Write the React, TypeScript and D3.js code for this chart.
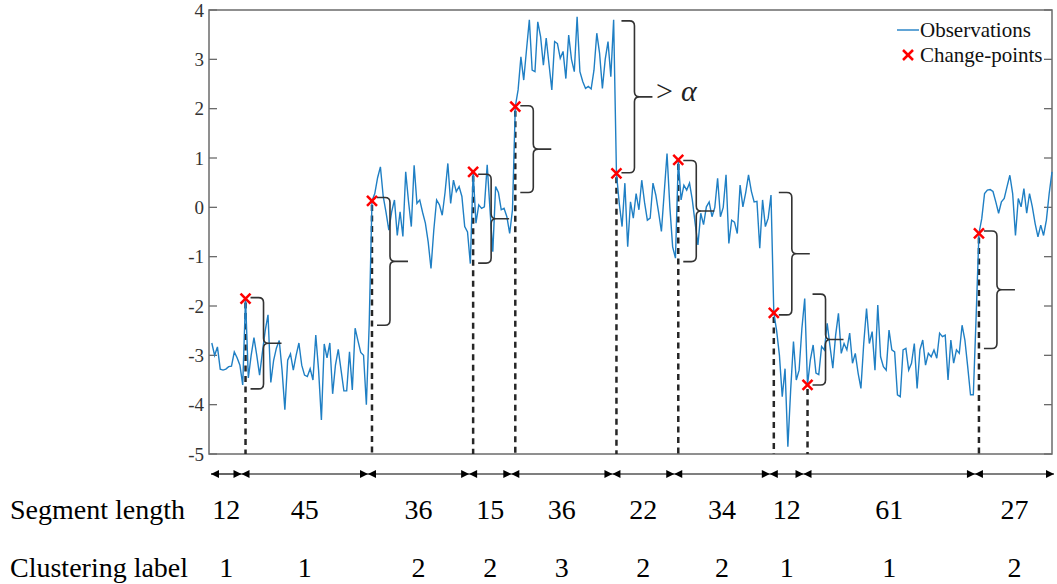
import React from 'react';
import * as d3 from 'd3';

const segLengths = [12, 45, 36, 15, 36, 22, 34, 12, 61, 27];
const clusterLabels = [1, 1, 2, 2, 3, 2, 2, 1, 1, 2];

// observations, one array per segment (index 1..300)
const seg1 = [-2.75, -3.0, -2.83, -3.28, -3.3, -3.28, -3.23, -3.22, -2.93, -3.05, -3.2, -3.6];
const seg2 = [-1.85, -3.46, -3.0, -2.64, -3.0, -3.4, -2.94, -2.5, -2.18, -3.55, -3.1, -2.85, -2.7, -3.3, -4.1,
  -3.1, -2.97, -3.3, -3.0, -2.75, -3.2, -3.4, -3.43, -3.27, -3.5, -2.59, -3.3, -4.31, -2.77, -3.05,
  -2.75, -3.78, -3.2, -2.88, -3.3, -3.72, -3.72, -2.93, -3.7, -2.45, -2.7, -2.94, -3.0, -4.0, -2.39];
const seg3 = [0.13, 0.28, 0.6, 0.82, 0.22, -0.1, -0.46, -0.09, 0.15, -0.57, -0.09, -0.59, 0.72, 0.12, -0.39,
  0.85, 0.08, 0.15, -0.1, -0.32, -0.7, -1.24, -0.46, 0.15, 0.05, -0.16, 0.3, 0.89, 0.08, 0.55,
  0.32, 0.42, 0.22, -0.39, -0.5, -1.14];
const seg4 = [0.72, -0.32, 0.05, -0.02, 0.01, 0.86, -0.05, -0.9, 0.42, 0.3, -0.05, -0.02, -0.19, -0.53, -0.05];
const seg5 = [2.04, 2.38, 3.05, 2.58, 3.2, 3.8, 2.78, 2.75, 3.76, 3.46, 2.88, 3.43, 2.9, 2.38, 3.36,
  3.32, 3.02, 3.16, 2.61, 3.49, 3.0, 2.75, 3.86, 2.75, 2.55, 2.41, 2.45, 2.4, 2.78, 3.53,
  3.12, 2.41, 3.0, 3.36, 2.65, 3.8];
const seg6 = [0.69, 0.08, -0.39, 0.49, -0.8, 0.11, -0.22, 0.28, -0.05, 0.55, 0.1, -0.26, -0.22, 0.49, 0.25,
  -0.1, -0.49, 0.3, 1.09, 0.01, -0.8, -1.03];
const seg7 = [0.96, 0.15, 0.45, 0.35, 0.49, 0.15, -0.32, -0.76, -0.12, -0.35, 0.01, 0.11, -0.19, 0.0, 0.59,
  -0.19, 0.0, 0.66, -0.73, -0.26, -0.3, -0.53, 0.45, 0.01, 0.3, 0.66, 0.33, 0.11, 0.12, -0.83,
  0.15, -0.39, -0.22, 0.25];
const seg8 = [-2.14, -2.5, -3.0, -3.84, -3.27, -4.85, -3.7, -2.72, -3.5, -3.3, -2.45, -1.85];
const seg9 = [-3.6, -3.09, -2.79, -3.36, -3.39, -2.82, -2.89, -2.35, -2.82, -3.26,
  -2.59, -2.15, -2.96, -2.76, -2.89, -2.55, -3.16, -2.96, -3.36, -3.67,
  -2.76, -2.05, -2.76, -2.52, -3.3, -1.98, -3.03, -3.23, -3.3, -2.49,
  -2.89, -2.93, -3.8, -3.84, -2.89, -2.86, -3.3, -3.16, -2.76, -3.67,
  -2.89, -2.69, -3.2, -2.96, -3.03, -2.89, -3.06, -2.55, -2.62, -2.59,
  -3.5, -2.69, -3.16, -2.89, -2.96, -2.39, -2.69, -3.23, -3.8, -3.8, -2.22];
const seg10 = [-0.53, -0.23, 0.28, 0.35, 0.36, 0.32, 0.11, -0.12, 0.11, 0.18, 0.42, 0.65, 0.28, -0.57, 0.18,
  0.01, 0.38, -0.12, 0.28, 0.01, -0.33, -0.6, -0.36, -0.57, -0.26, 0.28, 0.72];

// brace extents (top, bottom) next to each change-point
const braceTop = [-1.83, 0.2, 0.67, 2.06, 3.78, 0.95, 0.3, -1.76, -0.48];
const braceBottom = [-3.68, -2.39, -1.13, 0.3, 0.7, -1.1, -2.18, -3.6, -2.86];

const yTicks = [4, 3, 2, 1, 0, -1, -2, -3, -4, -5];

const W = 1057, H = 584;
const serif = '"Liberation Serif", "Times New Roman", serif';

function bracePath(x0: number, yT: number, yB: number, xs: number, xt: number) {
  const ym = (yT + yB) / 2;
  const r = 5;
  return `M${x0},${yT} L${xs - r},${yT} Q${xs},${yT} ${xs},${yT + r} L${xs},${ym - r} Q${xs},${ym} ${xs + r},${ym} L${xt},${ym}` +
    ` M${xs + r},${ym} Q${xs},${ym} ${xs},${ym + r} L${xs},${yB - r} Q${xs},${yB} ${xs - r},${yB} L${x0},${yB}`;
}

function Cross({ x, y, s, w }: { x: number; y: number; s: number; w: number }) {
  return (
    <g stroke="#ff0000" strokeWidth={w}>
      <line x1={x - s} y1={y - s} x2={x + s} y2={y + s} />
      <line x1={x - s} y1={y + s} x2={x + s} y2={y - s} />
    </g>
  );
}

export default function App() {
  const obs = [...seg1, ...seg2, ...seg3, ...seg4, ...seg5, ...seg6, ...seg7, ...seg8, ...seg9, ...seg10];
  const data = obs.map((v, i) => [i + 1, v] as [number, number]);

  const x = d3.scaleLinear().domain([0, 300]).range([209, 1052]);
  const y = d3.scaleLinear().domain([-5, 4]).range([454, 10]);

  const line = d3.line<[number, number]>().x(d => x(d[0])).y(d => y(d[1]));

  // change-points = first index of each new segment
  const cum = d3.cumsum(segLengths);
  const cps = Array.from(cum).slice(0, -1).map(c => c + 1);
  const bounds = [0, ...cps, 300];
  const boundX = bounds.map((b, i) => (i === 0 || i === bounds.length - 1 ? x(b) + 2 : x(b) - 4));

  const arrowY = 474;

  return (
    <svg width={W} height={H} style={{ position: 'absolute', left: 0, top: 0, background: '#fff' }}>
      <defs>
        <marker id="ah" viewBox="0 0 10 10" refX="10" refY="5" markerWidth="9" markerHeight="8" markerUnits="userSpaceOnUse" orient="auto-start-reverse">
          <path d="M0,0 L10,5 L0,10 z" fill="#000" />
        </marker>
      </defs>

      {/* axes box */}
      <rect x={x(0)} y={y(4)} width={x(300) - x(0)} height={y(-5) - y(4)} fill="none" stroke="#6b6b6b" strokeWidth={1.5} />
      {yTicks.map(t => (
        <g key={t}>
          <line x1={x(0)} x2={x(0) + 8} y1={y(t)} y2={y(t)} stroke="#6b6b6b" strokeWidth={1.3} />
          <line x1={x(300) - 8} x2={x(300)} y1={y(t)} y2={y(t)} stroke="#6b6b6b" strokeWidth={1.3} />
          <text x={x(0) - 5} y={y(t)} dy="0.35em" textAnchor="end" fontFamily={serif} fontSize={19} fill="#333">{t}</text>
        </g>
      ))}

      {/* dashed drop lines */}
      {cps.map(c => (
        <line key={'d' + c} x1={x(c)} x2={x(c)} y1={y(obs[c - 1]) + 4} y2={y(-5)} stroke="#262626" strokeWidth={2.5} strokeDasharray="6,4.5" />
      ))}

      {/* observations */}
      <path d={line(data) || ''} fill="none" stroke="#1f7fc4" strokeWidth={1.4} />

      {/* braces */}
      {cps.map((c, i) => {
        const x0 = x(c) + 5;
        const xs = x0 + 13;
        return <path key={'b' + c} d={bracePath(x0, y(braceTop[i]), y(braceBottom[i]), xs, xs + 18)} fill="none" stroke="#333" strokeWidth={1.6} />;
      })}

      {/* change-point markers */}
      {cps.map(c => <Cross key={'x' + c} x={x(c)} y={y(obs[c - 1])} s={5} w={2.5} />)}

      {/* > alpha */}
      <text x={656} y={y(2.16)} fontFamily={serif} fontSize={30} fill="#222">
        {'>'}<tspan dx={8} fontStyle="italic">α</tspan>
      </text>

      {/* legend */}
      <line x1={897} x2={919} y1={30} y2={30} stroke="#1f7fc4" strokeWidth={1.4} />
      <text x={920} y={37} fontFamily={serif} fontSize={21} fill="#111">Observations</text>
      <Cross x={908} y={55} s={5} w={2.5} />
      <text x={920} y={62} fontFamily={serif} fontSize={21} fill="#111">Change-points</text>

      {/* segment arrows */}
      {segLengths.map((s, i) => (
        <line key={'a' + i} x1={boundX[i]} x2={boundX[i + 1]} y1={arrowY} y2={arrowY} stroke="#000" strokeWidth={1.2}
          markerStart="url(#ah)" markerEnd="url(#ah)" />
      ))}

      {/* rows of text */}
      <text x={10} y={519} fontFamily={serif} fontSize={28} fill="#000">Segment length</text>
      <text x={10} y={577} fontFamily={serif} fontSize={28} fill="#000">Clustering label</text>
      {segLengths.map((s, i) => {
        const mx = (boundX[i] + boundX[i + 1]) / 2;
        return (
          <g key={'t' + i} fontFamily={serif} fontSize={28} fill="#000" textAnchor="middle">
            <text x={mx} y={519}>{s}</text>
            <text x={mx} y={577}>{clusterLabels[i]}</text>
          </g>
        );
      })}
    </svg>
  );
}
